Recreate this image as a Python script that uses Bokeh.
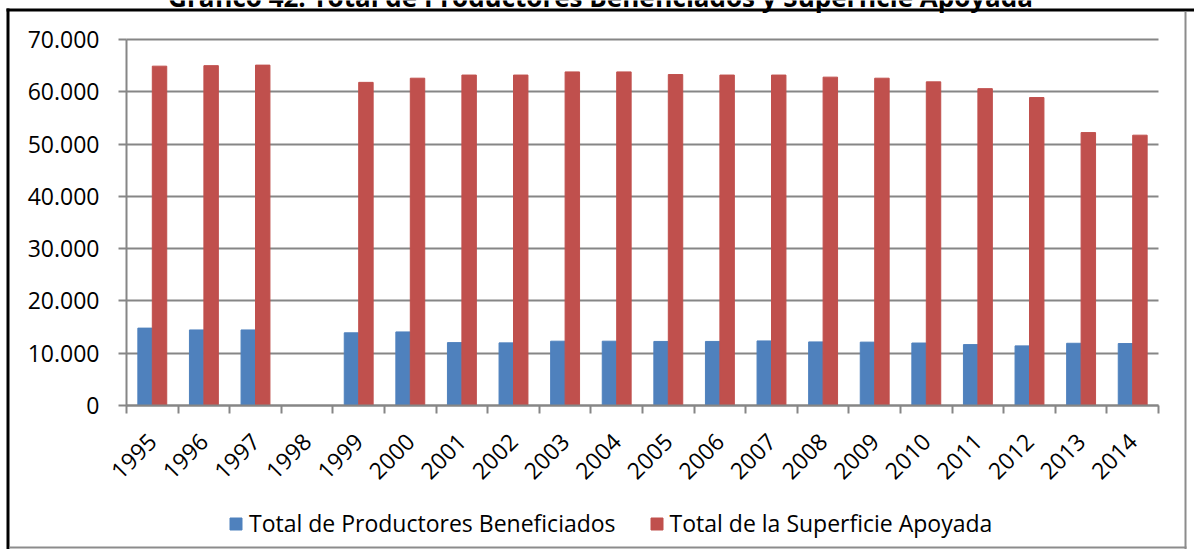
import math
from bokeh.plotting import figure
from bokeh.models import (FixedTicker, Legend, LegendItem, ColumnDataSource, Range1d,
                          BoxAnnotation)
from bokeh.core.properties import value
from bokeh.embed import file_html
from bokeh.resources import INLINE

title = ["Gráfico 42. Total de Productores Beneficiados y Superficie Apoyada"]
years = ["1995", "1996", "1997", "1998", "1999", "2000", "2001", "2002", "2003", "2004",
         "2005", "2006", "2007", "2008", "2009", "2010", "2011", "2012", "2013", "2014"]
productores = [14800, 14450, 14450, float("nan"), 13900, 14070, 12030, 11980, 12300, 12300,
               12250, 12250, 12350, 12160, 12120, 11950, 11650, 11400, 11900, 11850]
superficie = [64900, 65000, 65100, float("nan"), 61800, 62600, 63200, 63200, 63800, 63800,
              63300, 63200, 63200, 62800, 62600, 61900, 60600, 58900, 52200, 51700]
y_ticks = [0, 10000, 20000, 30000, 40000, 50000, 60000, 70000]
y_tick_labels = ["0", "10.000", "20.000", "30.000", "40.000", "50.000", "60.000", "70.000"]
series_names = ["Total de Productores Beneficiados", "Total de la Superficie Apoyada"]

BLUE = "#4F81BD"
RED = "#C0504D"
GRID = "#868686"
EDGE = "#8c8c8c"
FONT = "Open Sans"

# layout, in page pixels (the frame covers the whole canvas)
CANVAS_W, CANVAS_H = 1194, 549
PLOT_L, PLOT_R = 126, 1158      # x pixels of the category span
PLOT_T, PLOT_B = 39, 405        # y pixels of 70000 and of 0

n = len(years)
y_top = y_ticks[-1]
cat_px = (PLOT_R - PLOT_L) / n
unit_px = (PLOT_B - PLOT_T) / y_top


def dx(px):
    return (px - PLOT_L) / cat_px


def dy(py):
    return (PLOT_B - py) / unit_px


bar_w = 0.28
idx = list(range(n))
src = ColumnDataSource(dict(
    xb=[i + 0.5 - bar_w / 2 for i in idx],
    xr=[i + 0.5 + bar_w / 2 for i in idx],
    prod=productores, sup=superficie))

p = figure(width=CANVAS_W, height=CANVAS_H, output_backend="svg", toolbar_location=None,
           x_range=Range1d(dx(0), dx(CANVAS_W)), y_range=Range1d(dy(CANVAS_H), dy(0)),
           min_border_left=0, min_border_right=0, min_border_top=0, min_border_bottom=0)
p.outline_line_color = None
p.background_fill_color = "white"
p.border_fill_color = "white"

# title, mostly cut off by the top edge as in the source
p.text(x=[dx(600)], y=[dy(-4)], text=title, text_font=value(FONT), text_font_style="bold",
       text_font_size="26px", text_align="center", text_baseline="alphabetic",
       text_color="black")

# chart-area border (black top/left, grey right/bottom) as in the source image
for (l, r, t, b, c) in [(6, CANVAS_W, 8, 11, "black"), (6, 9, 8, CANVAS_H, "black"),
                        (1184, 1186, 11, CANVAS_H, EDGE), (9, 1186, 546, 548, EDGE)]:
    p.add_layout(BoxAnnotation(left=dx(l), right=dx(r), top=dy(t), bottom=dy(b),
                               fill_color=c, fill_alpha=1, line_color=None, level="overlay"))

rb = p.vbar(x="xb", top="prod", width=bar_w, source=src, color=BLUE, line_color=BLUE)
rr = p.vbar(x="xr", top="sup", width=bar_w, source=src, color=RED, line_color=RED)

# y axis, drawn at x = 0 inside the frame
p.yaxis.fixed_location = 0
p.yaxis.ticker = FixedTicker(ticks=y_ticks)
p.yaxis.bounds = (0, y_top)
p.yaxis.major_label_overrides = {t: l for t, l in zip(y_ticks, y_tick_labels)}
p.yaxis.axis_line_color = GRID
p.yaxis.axis_line_width = 2
p.yaxis.major_tick_line_color = GRID
p.yaxis.major_tick_line_width = 2
p.yaxis.major_tick_out = 8
p.yaxis.major_tick_in = 0
p.yaxis.minor_tick_line_color = None
p.yaxis.major_label_text_font = FONT
p.yaxis.major_label_text_font_size = "23px"
p.yaxis.major_label_text_color = "black"
p.yaxis.major_label_standoff = 19

# x axis, drawn at y = 0 inside the frame
centers = [i + 0.5 for i in idx]
p.xaxis.fixed_location = 0
p.xaxis.bounds = (0, n)
p.xaxis.ticker = FixedTicker(ticks=centers, minor_ticks=list(range(n + 1)))
p.xaxis.major_label_overrides = {c: y for c, y in zip(centers, years)}
p.xaxis.major_label_orientation = math.pi / 4
p.xaxis.axis_line_color = GRID
p.xaxis.axis_line_width = 2
p.xaxis.major_tick_line_color = None
p.xaxis.major_tick_out = 0
p.xaxis.major_tick_in = 0
p.xaxis.minor_tick_line_color = GRID
p.xaxis.minor_tick_line_width = 2
p.xaxis.minor_tick_out = 8
p.xaxis.minor_tick_in = 0
p.xaxis.major_label_text_font = FONT
p.xaxis.major_label_text_font_size = "23px"
p.xaxis.major_label_text_color = "black"
p.xaxis.major_label_standoff = 24

p.xgrid.grid_line_color = None
p.ygrid.ticker = FixedTicker(ticks=y_ticks)
p.ygrid.cross_bounds = (0, n)
p.ygrid.grid_line_color = GRID
p.ygrid.grid_line_width = 2

legend = Legend(items=[LegendItem(label=series_names[0], renderers=[rb]),
                       LegendItem(label=series_names[1], renderers=[rr])],
                orientation="horizontal", location=(228, 10),
                glyph_width=15, glyph_height=15, label_standoff=6, spacing=33,
                padding=0, margin=0, border_line_color=None, background_fill_alpha=0,
                label_text_font=FONT, label_text_font_size="23px", label_text_color="black")
p.add_layout(legend, "center")

open("out.html", "w").write(file_html(p, INLINE))
